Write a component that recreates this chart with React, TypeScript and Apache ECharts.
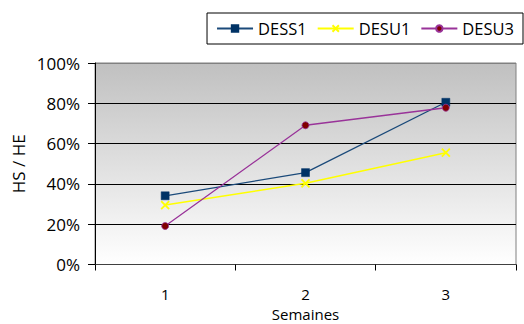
import React, { useEffect, useRef } from "react";
import * as echarts from "echarts";

const categories = ["1", "2", "3"];
const dess1 = [0.341, 0.456, 0.805];
const desu1 = [0.295, 0.403, 0.555];
const desu3 = [0.191, 0.691, 0.778];
const yTicks = [0, 0.2, 0.4, 0.6, 0.8, 1];

const FONT = "Open Sans";

export default function App() {
  const ref = useRef<HTMLDivElement>(null);
  useEffect(() => {
    const chart = echarts.init(ref.current!, null, { renderer: "svg" });
    const xSym = "path://M0,0L10,10M10,0L0,10";
    chart.setOption({
      animation: false,
      backgroundColor: "#ffffff",
      textStyle: { fontFamily: FONT },
      legend: {
        right: 1,
        top: 13,
        orient: "horizontal",
        backgroundColor: "#ffffff",
        borderColor: "#000000",
        borderWidth: 1,
        padding: [7, 9, 7, 9],
        itemWidth: 36,
        itemHeight: 8,
        itemGap: 10,
        textStyle: { fontFamily: FONT, fontSize: 16.5, color: "#000" },
        data: ["DESS1", "DESU1", "DESU3"],
      },
      grid: {
        left: 95,
        right: 8,
        top: 63,
        bottom: 59.5,
        outerBoundsMode: "none",
        containLabel: false,
        show: true,
        borderColor: "#808080",
        borderWidth: 1,
        backgroundColor: new echarts.graphic.LinearGradient(0, 0, 0, 1, [
          { offset: 0, color: "#c0c0c0" },
          { offset: 1, color: "#ffffff" },
        ]),
      },
      xAxis: {
        type: "category",
        data: categories,
        boundaryGap: true,
        name: "Semaines",
        nameLocation: "middle",
        nameGap: 41,
        nameMoveOverlap: false,
        nameTextStyle: { fontFamily: FONT, fontSize: 15, lineHeight: 16, color: "#000" },
        axisLine: { lineStyle: { color: "#404040", width: 1 } },
        axisTick: { show: true, length: 6, lineStyle: { color: "#000" } },
        axisLabel: { fontFamily: FONT, fontSize: 15, lineHeight: 17, color: "#000", margin: 21 },
        splitLine: { show: false },
      },
      yAxis: {
        type: "value",
        min: 0,
        max: 1,
        interval: 0.2,
        name: "HS / HE",
        nameLocation: "middle",
        nameRotate: 90,
        nameGap: 68,
        nameMoveOverlap: false,
        nameTextStyle: { fontFamily: FONT, fontSize: 17, color: "#000" },
        axisLine: { show: true, lineStyle: { color: "#000", width: 1 } },
        axisTick: { show: true, length: 7, lineStyle: { color: "#000" } },
        axisLabel: {
          fontFamily: FONT,
          fontSize: 17,
          color: "#000",
          margin: 15,
          padding: [7, 0, 0, 0],
          formatter: (v: number) => {
            const m = yTicks.find((t) => Math.abs(t - v) < 1e-6);
            return m === undefined ? "" : Math.round(m * 100) + "%";
          },
        },
        splitLine: {
          show: true,
          lineStyle: { color: ["#404040", "#000", "#000", "#000", "#000", "#808080"], width: 1 },
        },
      },
      series: [
        {
          name: "DESS1",
          type: "line",
          data: dess1,
          symbol: "rect",
          symbolSize: 8,
          lineStyle: { color: "#1b4a7a", width: 1.3 },
          itemStyle: { color: "#003366", borderColor: "#003366", borderWidth: 0.5 },
          z: 3,
        },
        {
          name: "DESU1",
          type: "line",
          data: desu1,
          symbol: xSym,
          symbolSize: 8,
          lineStyle: { color: "#ffff00", width: 1.5 },
          itemStyle: { color: "#ffff00", borderColor: "#ffff00", borderWidth: 1.8 },
          z: 2,
        },
        {
          name: "DESU3",
          type: "line",
          data: desu3,
          symbol: "circle",
          symbolSize: 7,
          lineStyle: { color: "#993399", width: 1.3 },
          itemStyle: { color: "#800000", borderColor: "#993399", borderWidth: 0.8 },
          z: 4,
        },
      ],
    });
    return () => chart.dispose();
  }, []);
  return <div ref={ref} style={{ width: 524, height: 324, position: "absolute", left: 0, top: 0 }} />;
}
